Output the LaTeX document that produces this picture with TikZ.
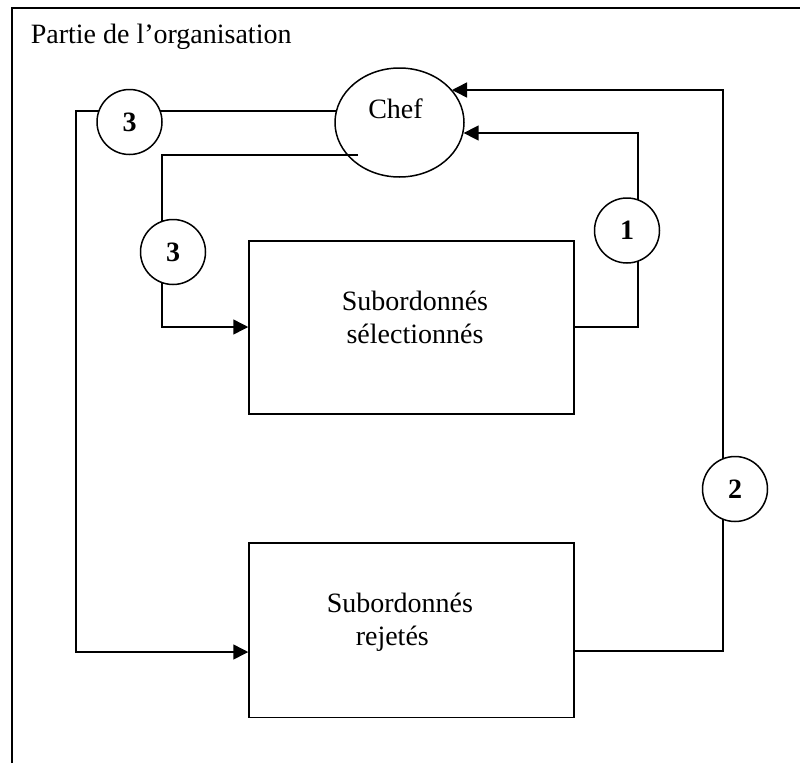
\documentclass[tikz,border=0pt]{standalone}
\usepackage{fontspec}
\setmainfont{Liberation Serif}
\usetikzlibrary{arrows.meta,shapes.geometric}
\begin{document}
\begin{tikzpicture}[x=1pt,y=-1pt,
  line width=1.5pt,
  every node/.style={font=\fontsize{28}{33}\selectfont, inner sep=0pt},
  boxnode/.style={draw, rectangle, fill=white, minimum width=325pt, minimum height=173pt},
  numnode/.style={draw, circle, fill=white, minimum size=65pt, font=\fontsize{28}{33}\selectfont\bfseries},
  chefnode/.style={draw, ellipse, fill=white, minimum width=129pt, minimum height=109pt},
  arr/.style={-{Triangle[length=15pt,width=15pt]}}]
\useasboundingbox (0,0) rectangle (800,763);
% frame
\draw (12,763) -- (12,8) -- (800,8);
\node (title) [anchor=base west] at (30,43) {Partie de l’organisation};
% main nodes
\node[chefnode] (chef) at (399.5,122.5) {};
\node (cheft) [anchor=base] at (395.5,118) {Chef};
\node[boxnode] (sel) at (411.5,327.5) {};
\node (selt1) [anchor=base] at (415,310) {Subordonnés};
\node (selt2) [anchor=base] at (415,343) {sélectionnés};
\node[boxnode, minimum height=174.5pt] (rej) at (411.5,630.25) {};
\node (rejt1) [anchor=base west] at (326,612) {Subordonnés};
\node (rejt2) [anchor=base west] at (355,645) {rejetés};
% bend points
\coordinate (a1) at (76,111);
\coordinate (a2) at (76,652);
\coordinate (b0) at (358,155);
\coordinate (b1) at (162,155);
\coordinate (b2) at (162,327);
\coordinate (c1) at (638,327);
\coordinate (c2) at (638,133);
\coordinate (d1) at (723,651);
\coordinate (d2) at (723,90);
% connectors
\draw[arr] (chef.169.65 |- a1) -- (a1) -- (a2) -- (rej.west |- a2);
\draw[arr] (b0) -- (b1) -- (b2) -- (sel.west |- b2);
\draw[arr] (sel.east |- c1) -- (c1) -- (c2) -- (chef.-9.4 |- c2);
\draw[arr] (rej.east |- d1) -- (d1) -- (d2) -- (chef.32 |- d2);
% numbered circles on the connectors
\node[numnode] (n3a) at (129.5,122) {3};
\node[numnode] (n3b) at (173,252) {3};
\node[numnode] (n1) at (627,230.5) {1};
\node[numnode] (n2) at (735,489) {2};
\end{tikzpicture}
\end{document}
